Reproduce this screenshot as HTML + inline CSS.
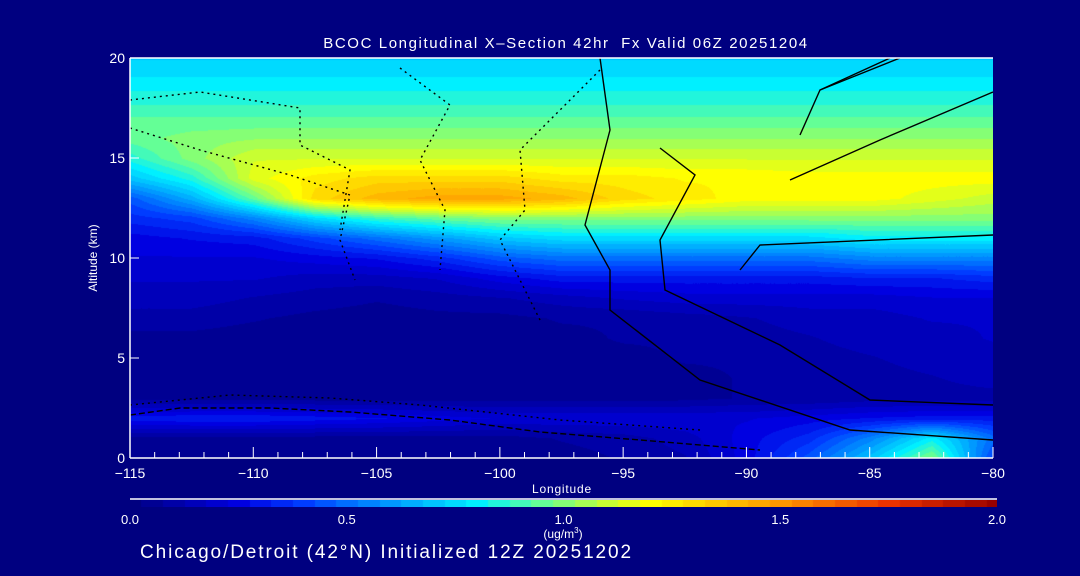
<!DOCTYPE html>
<html><head><meta charset="utf-8"><style>
html,body{margin:0;padding:0;background:#000080;width:1080px;height:576px;overflow:hidden;font-family:"Liberation Sans",sans-serif;color:#fff}
.t{position:absolute;white-space:nowrap;color:#fff}
</style></head><body>
<div style="position:absolute;left:0;top:0;width:1080px;height:576px">
<div class="t" style="left:566px;top:35px;font-size:15px;letter-spacing:1.6px;transform:translateX(-50%)">BCOC Longitudinal X–Section 42hr&nbsp; Fx Valid 06Z 20251204</div>
<canvas id="cv" width="863" height="400" style="position:absolute;left:130px;top:58px"></canvas>
<canvas id="cb" width="867" height="7" style="position:absolute;left:130px;top:500px"></canvas>
<svg id="ov" width="1080" height="576" style="position:absolute;left:0;top:0"></svg>
<div class="t" style="left:93px;top:258px;font-size:12px;transform:translate(-50%,-50%) rotate(-90deg)">Altitude (km)</div>
<div class="t" style="left:562px;top:482px;font-size:12px;letter-spacing:0.8px;transform:translateX(-50%)">Longitude</div>
<div class="t" style="left:563px;top:526px;font-size:12px;transform:translateX(-50%)">(ug/m<sup style="font-size:8px">3</sup>)</div>
<div class="t" style="left:140px;top:542px;font-size:19px;letter-spacing:1.9px">Chicago/Detroit (42°N) Initialized 12Z 20251202</div>
</div>
<script>
const lons=[-115,-112.5,-110,-107.5,-105,-102.5,-100,-97.5,-95,-92.5,-90,-87.5,-85,-82.5,-80];
const alts=[0,1,2,3,4,5,6,7,8,9,10,11,12,13,14,15,16,17,18,19,20];
const conc=[
[0.03,0.03,0.03,0.03,0.03,0.03,0.03,0.05,0.08,0.12,0.25,0.45,0.7,1.0,0.4],
[0.05,0.05,0.05,0.05,0.05,0.05,0.05,0.08,0.1,0.15,0.25,0.35,0.55,0.8,0.5],
[0.3,0.32,0.32,0.3,0.28,0.25,0.22,0.22,0.22,0.22,0.22,0.25,0.28,0.3,0.3],
[0.05,0.05,0.05,0.05,0.05,0.05,0.05,0.05,0.05,0.06,0.08,0.08,0.1,0.1,0.1],
[0.05,0.05,0.05,0.05,0.05,0.05,0.05,0.05,0.06,0.06,0.08,0.08,0.1,0.12,0.15],
[0.05,0.05,0.05,0.05,0.05,0.05,0.05,0.06,0.06,0.08,0.08,0.1,0.12,0.15,0.15],
[0.06,0.06,0.05,0.05,0.05,0.05,0.06,0.06,0.08,0.08,0.1,0.12,0.15,0.15,0.18],
[0.1,0.1,0.08,0.06,0.05,0.06,0.06,0.08,0.08,0.1,0.12,0.15,0.15,0.18,0.18],
[0.15,0.15,0.12,0.1,0.08,0.1,0.12,0.15,0.18,0.2,0.2,0.2,0.2,0.22,0.22],
[0.18,0.18,0.18,0.15,0.15,0.18,0.25,0.3,0.3,0.3,0.3,0.3,0.32,0.32,0.35],
[0.22,0.22,0.22,0.25,0.28,0.35,0.45,0.5,0.5,0.5,0.5,0.5,0.55,0.55,0.55],
[0.25,0.28,0.3,0.4,0.5,0.6,0.7,0.75,0.75,0.75,0.75,0.75,0.8,0.8,0.8],
[0.35,0.4,0.55,0.75,0.88,0.95,1.0,1.0,1.0,1.0,1.0,1.0,1.0,1.0,1.0],
[0.45,0.65,0.95,1.3,1.4,1.45,1.45,1.4,1.3,1.25,1.2,1.2,1.2,1.15,1.1],
[0.7,0.85,1.15,1.25,1.3,1.3,1.3,1.25,1.25,1.22,1.22,1.2,1.2,1.2,1.2],
[0.85,1.0,1.12,1.12,1.12,1.12,1.12,1.12,1.12,1.12,1.12,1.12,1.12,1.12,1.12],
[0.95,1.0,1.02,1.02,1.02,1.02,1.02,1.02,1.02,1.02,1.02,1.02,1.02,1.02,1.02],
[0.93,0.93,0.93,0.93,0.93,0.93,0.93,0.93,0.93,0.93,0.93,0.93,0.93,0.93,0.93],
[0.85,0.85,0.85,0.85,0.85,0.85,0.85,0.85,0.85,0.85,0.85,0.85,0.85,0.85,0.85],
[0.78,0.78,0.78,0.78,0.78,0.78,0.78,0.78,0.78,0.78,0.78,0.78,0.78,0.78,0.78],
[0.72,0.72,0.72,0.72,0.72,0.72,0.72,0.72,0.72,0.72,0.72,0.72,0.72,0.72,0.72]];
const xTicks=[-115,-110,-105,-100,-95,-90,-85,-80];
const yTicks=[0,5,10,15,20];
const cbTicks=["0.0","0.5","1.0","1.5","2.0"];
const X0=130,X1=993,Y0=458,Y1=58;
const xs=v=>X0+(v+115)/35*(X1-X0);
const ys=v=>Y0-v/20*(Y0-Y1);
const stops=[[0,0,0,128],[0.25,0,0,225],[0.4,0,60,255],[0.5,0,110,255],[0.65,0,175,255],[0.8,0,240,255],[0.95,100,255,150],[1.1,200,255,50],[1.2,255,255,0],[1.35,255,200,0],[1.5,255,150,0],[1.75,235,50,0],[2.0,150,0,0]];
function cmap(v){v=Math.max(0,Math.min(2,Math.round(v*20)/20));for(let i=1;i<stops.length;i++){if(v<=stops[i][0]){const a=stops[i-1],b=stops[i],t=(v-a[0])/(b[0]-a[0]);return [0,1,2].map(k=>Math.round(a[k+1]+(b[k+1]-a[k+1])*t));}}return [150,0,0];}
function sample(lon,alt){let fi=(lon-lons[0])/(lons[1]-lons[0]);fi=Math.max(0,Math.min(lons.length-1.0001,fi));let fj=(alt-alts[0])/(alts[1]-alts[0]);fj=Math.max(0,Math.min(alts.length-1.0001,fj));const i=Math.floor(fi),j=Math.floor(fj),u=fi-i,w=fj-j;return conc[j][i]*(1-u)*(1-w)+conc[j][i+1]*u*(1-w)+conc[j+1][i]*(1-u)*w+conc[j+1][i+1]*u*w;}
const cv=document.getElementById('cv'),ctx=cv.getContext('2d'),img=ctx.createImageData(cv.width,cv.height);
for(let py=0;py<cv.height;py++){const alt=20-py/cv.height*20;for(let px=0;px<cv.width;px++){const lon=-115+px/cv.width*35;const c=cmap(sample(lon,alt));const o=(py*cv.width+px)*4;img.data[o]=c[0];img.data[o+1]=c[1];img.data[o+2]=c[2];img.data[o+3]=255;}}
ctx.putImageData(img,0,0);
const cb=document.getElementById('cb'),cc=cb.getContext('2d');
for(let px=0;px<cb.width;px++){const c=cmap(px/cb.width*2);cc.fillStyle=`rgb(${c[0]},${c[1]},${c[2]})`;cc.fillRect(px,0,1,7);}
const ns='http://www.w3.org/2000/svg',ov=document.getElementById('ov');
function el(tag,attrs,txt){const e=document.createElementNS(ns,tag);for(const k in attrs)e.setAttribute(k,attrs[k]);if(txt!==undefined)e.textContent=txt;ov.appendChild(e);return e;}
const contours=[
["M600,58 L610,130 L585,225 L610,270 L610,310 L700,380 L850,430 L993,440","none"],
["M660,148 L695,175 L660,240 L665,290 L780,345 L870,400 L993,405","none"],
["M740,270 L760,245 L993,235","none"],
["M820,90 L890,58","none"],
["M800,135 L820,90 L900,58","none"],
["M790,180 L880,140 L993,92","none"],
["M130,128 L200,150 L290,175 L350,195 L340,240 L355,280","2,4"],
["M130,100 L200,92 L300,108 L300,145 L350,170 L340,230","2,4"],
["M400,68 L450,105 L420,160 L445,210 L440,270","2,4"],
["M600,70 L520,150 L525,210 L500,240 L540,320","2,4"],
["M130,415 L180,408 L270,408 L350,412 L450,420 L540,432 L640,440 L760,450","6,3"],
["M130,405 L230,395 L330,398 L420,405 L560,420 L700,430","2,4"]];
contours.forEach(c=>{const p=el('path',{d:c[0],fill:'none',stroke:'#000','stroke-width':1.4,'stroke-dasharray':c[1]==='none'?'':c[1]});

});
const ax=el('path',{d:`M${X0},${Y1} L${X1},${Y1} M${X0},${Y0} L${X1},${Y0} M${X0},${Y1} L${X0},${Y0}`,stroke:'#fff','stroke-width':1.5,fill:'none'});


for(let v=-115;v<=-80;v++){const major=v%5===0;const t=el('line',{x1:xs(v),x2:xs(v),y1:Y0,y2:Y0-(major?11:6),stroke:'#fff','stroke-width':1});

}
xTicks.forEach(v=>{const t=el('text',{x:xs(v),y:Y0+20,fill:'#fff','font-size':14,'text-anchor':'middle','font-family':'Liberation Sans'},v<0?'−'+(-v):String(v));

});
yTicks.forEach(v=>{const t=el('text',{x:X0-5,y:ys(v)+5,fill:'#fff','font-size':14,'text-anchor':'end','font-family':'Liberation Sans'},String(v));


const l=el('line',{x1:X0,x2:X0+9,y1:ys(v),y2:ys(v),stroke:'#fff'});

});
const cbl=el('line',{x1:130,x2:997,y1:499,y2:499,stroke:'#fff','stroke-width':1.5});


cbTicks.forEach((s,i)=>{const t=el('text',{x:130+i*(867/4),y:524,fill:'#fff','font-size':13,'text-anchor':'middle','font-family':'Liberation Sans'},s);

});
</script>
</body></html>
